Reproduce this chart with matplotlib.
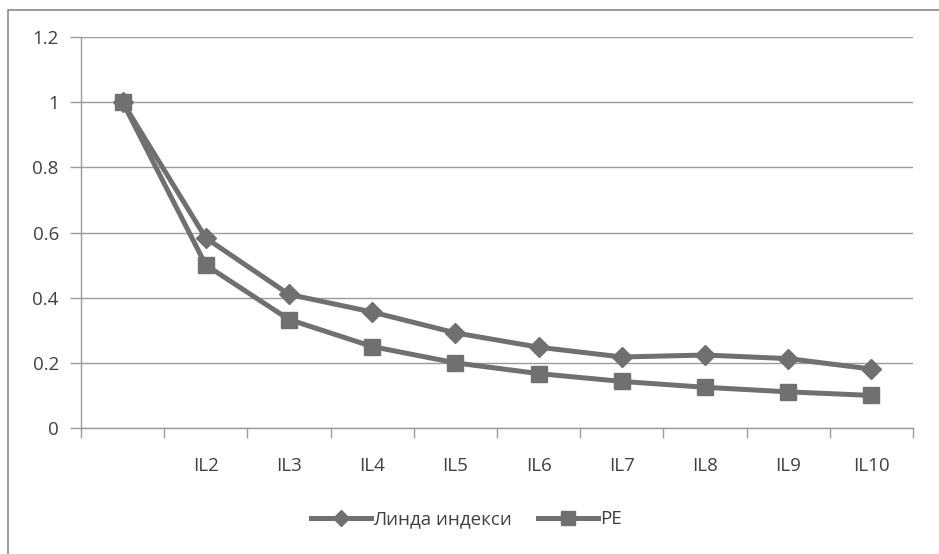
import numpy as np
import matplotlib.pyplot as plt
from matplotlib.patches import Rectangle

plt.rcParams['font.family'] = ['Open Sans', 'DejaVu Sans']

categories = ["", "IL2", "IL3", "IL4", "IL5", "IL6", "IL7", "IL8", "IL9", "IL10"]
linda = [1.0, 0.583, 0.41, 0.356, 0.292, 0.248, 0.218, 0.224, 0.213, 0.181]
pe = [1.0, 0.5, 0.333, 0.25, 0.2, 0.167, 0.143, 0.125, 0.111, 0.1]

line_color = "#707070"
axis_color = "#9a9a9a"

fig = plt.figure(figsize=(9.39, 5.54), dpi=100)
ax = fig.add_axes([0.0863, 0.2274, 0.886, 0.7058])

x = np.arange(len(categories))
ax.plot(x, linda, color=line_color, lw=3.6, marker="D", markersize=10,
        label="Линда индекси", zorder=3)
ax.plot(x, pe, color=line_color, lw=3.6, marker="s", markersize=12,
        label="PE", zorder=3)

ax.set_xlim(-0.5, len(categories) - 0.5)
ax.set_ylim(0, 1.2)
ax.set_yticks(np.arange(0, 1.21, 0.2))
ax.set_yticklabels(["0", "0.2", "0.4", "0.6", "0.8", "1", "1.2"])
ax.yaxis.grid(True, color=axis_color, lw=1)
ax.set_axisbelow(True)

ax.set_xticks(x)
ax.set_xticklabels(categories)
ax.set_xticks(np.arange(-0.5, len(categories), 1.0), minor=True)
ax.tick_params(axis="x", which="major", length=0, pad=21, labelsize=13.5, colors="#404040")
ax.tick_params(axis="x", which="minor", length=7, color=axis_color, width=1)
ax.tick_params(axis="y", length=8, color=axis_color, width=1, pad=8,
               labelsize=13.5, labelcolor="#404040")

for side in ["top", "right"]:
    ax.spines[side].set_visible(False)
for side in ["left", "bottom"]:
    ax.spines[side].set_color(axis_color)
    ax.spines[side].set_linewidth(1)

fig.legend(loc="center", bbox_to_anchor=(0.497, 0.063), ncol=2, frameon=False,
           fontsize=13.5, handlelength=3.2, columnspacing=1.4, handletextpad=0.1,
           markerscale=0.8, labelcolor="#404040")

fig.patches.append(Rectangle((8 / 939, -0.1), 2, 1.1 - 10 / 554, transform=fig.transFigure,
                             fill=False, edgecolor="#8a8a8a", lw=1.2))

fig.savefig("out.png", dpi=100)
